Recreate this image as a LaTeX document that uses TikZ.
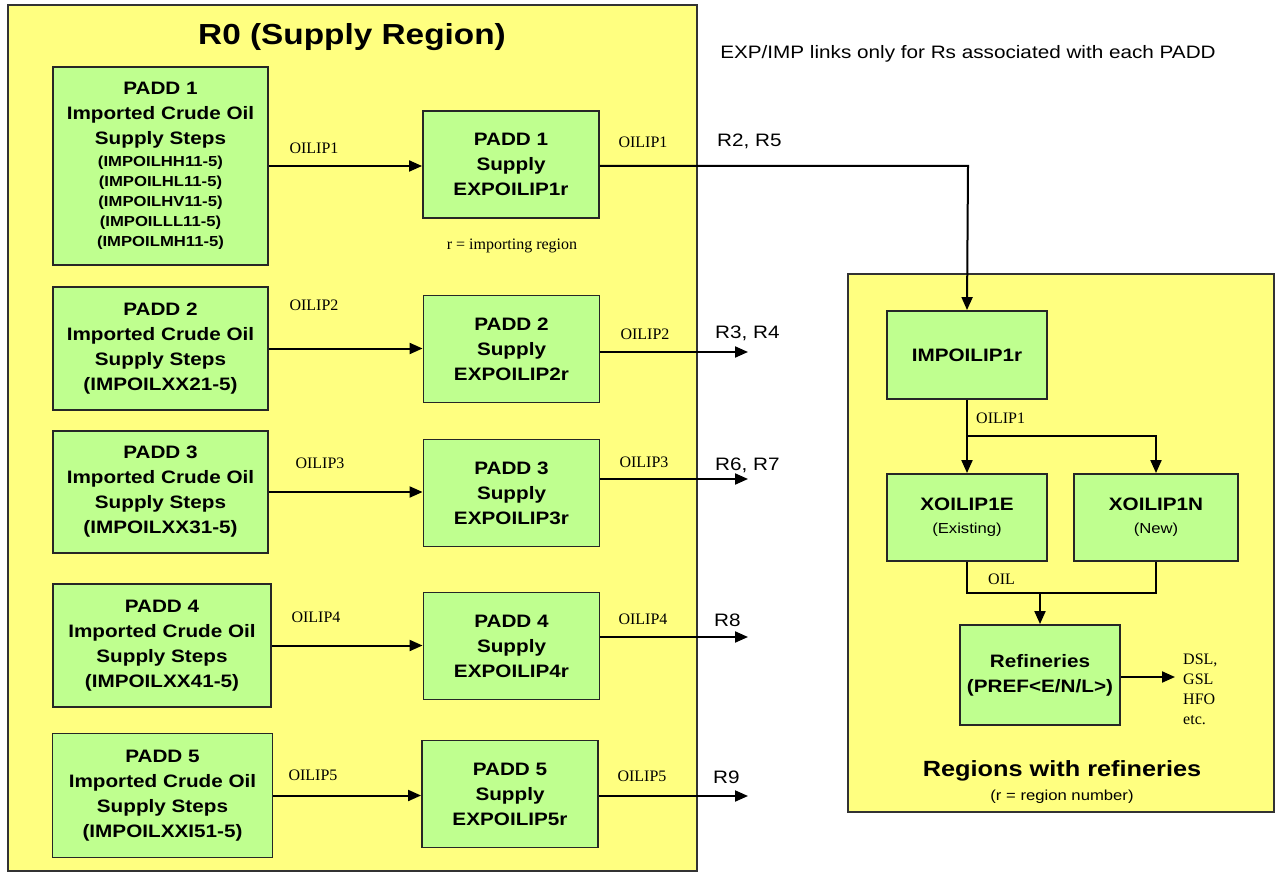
\documentclass[tikz,border=0pt]{standalone}
\usepackage{fontspec}
\setmainfont{Liberation Sans}[FakeStretch=1.15]
\newfontfamily\labelserif{Liberation Serif}
\usetikzlibrary{arrows.meta}
\definecolor{regionyellow}{HTML}{FFFF80}
\definecolor{boxgreen}{HTML}{BFFF8F}
\newcommand\subline{\fontsize{14.5}{20}\selectfont}
\begin{document}
\begin{tikzpicture}[x=1pt,y=-1pt,
  region/.style={draw=black!80, line width=1.4pt, fill=regionyellow},
  box/.style={draw=black!85, line width=1.9pt, fill=boxgreen, align=center,
    inner sep=0pt, font=\fontsize{18}{25}\selectfont\bfseries},
  flow/.style={line width=2pt, -{Triangle[length=13pt,width=11pt]}},
  wire/.style={line width=2pt},
  lbl/.style={font=\labelserif\fontsize{16}{20}\selectfont, inner sep=0pt},
  dest/.style={font=\fontsize{18}{22}\selectfont, anchor=west, inner sep=0pt}]

\useasboundingbox (0,0) rectangle (1276,874);
\fill[white] (0,0) rectangle (1276,874);

% regions
\draw[region] (8,5) rectangle (697,871);
\draw[region] (848,274) rectangle (1274,812);

\node[font=\fontsize{29}{34}\selectfont\bfseries] (title) at (352,37) {R0 (Supply Region)};
\node[font=\fontsize{18}{22}\selectfont] (note) at (968,54) {EXP/IMP links only for Rs associated with each PADD};

% imported crude oil supply steps
\node[box, minimum width=215, minimum height=198] (imp1) at (160.5,166) {%
  \begin{tabular}{@{}c@{}}PADD 1\\Imported Crude Oil\\Supply Steps\\[-3pt]
  \subline (IMPOILHH11-5)\\[-5pt]\subline (IMPOILHL11-5)\\[-5pt]
  \subline (IMPOILHV11-5)\\[-5pt]\subline (IMPOILLL11-5)\\[-5pt]
  \subline (IMPOILMH11-5)\end{tabular}};
\node[box, minimum width=215, minimum height=123] (imp2) at (160.5,348.5)
  {PADD 2\\Imported Crude Oil\\Supply Steps\\(IMPOILXX21-5)};
\node[box, minimum width=215, minimum height=122] (imp3) at (160.5,492)
  {PADD 3\\Imported Crude Oil\\Supply Steps\\(IMPOILXX31-5)};
\node[box, minimum width=218, minimum height=123] (imp4) at (162,645.5)
  {PADD 4\\Imported Crude Oil\\Supply Steps\\(IMPOILXX41-5)};
\node[box, minimum width=220, minimum height=124] (imp5) at (162.5,795.5)
  {PADD 5\\Imported Crude Oil\\Supply Steps\\(IMPOILXXI51-5)};

% supply exports
\node[box, minimum width=176, minimum height=107] (sup1) at (511,164.5) {PADD 1\\Supply\\EXPOILIP1r};
\node[box, minimum width=176, minimum height=107] (sup2) at (511.5,349) {PADD 2\\Supply\\EXPOILIP2r};
\node[box, minimum width=176, minimum height=107] (sup3) at (511.5,493) {PADD 3\\Supply\\EXPOILIP3r};
\node[box, minimum width=176, minimum height=107] (sup4) at (511.5,646) {PADD 4\\Supply\\EXPOILIP4r};
\node[box, minimum width=176, minimum height=107] (sup5) at (510,794) {PADD 5\\Supply\\EXPOILIP5r};

\node[lbl] (rnote) at (512,246) {r = importing region};

% steps to supply
\foreach \i in {1,...,5} {
  \draw[flow] (imp\i.east) -- (imp\i.east -| sup\i.west);
}
\node[lbl] (a1) at (314,148) {OILIP1};
\node[lbl] (a2) at (314,305) {OILIP2};
\node[lbl] (a3) at (320,463) {OILIP3};
\node[lbl] (a4) at (316,617) {OILIP4};
\node[lbl] (a5) at (313,775) {OILIP5};

% exports to other regions
\coordinate (e1) at (968,166);
\coordinate (e2) at (748,352);
\coordinate (e3) at (748,479);
\coordinate (e4) at (748,637);
\coordinate (e5) at (748,796);
\foreach \i in {2,...,5} {
  \draw[flow] (sup\i.east |- e\i) -- (e\i);
}
\node[lbl] (b1) at (643,142) {OILIP1};
\node[lbl] (b2) at (645,334) {OILIP2};
\node[lbl] (b3) at (644,462) {OILIP3};
\node[lbl] (b4) at (643,619) {OILIP4};
\node[lbl] (b5) at (642,776) {OILIP5};
\node[dest] (d1) at (717,141) {R2, R5};
\node[dest] (d2) at (715,333) {R3, R4};
\node[dest] (d3) at (715,465) {R6, R7};
\node[dest] (d4) at (714,620) {R8};
\node[dest] (d5) at (713,777) {R9};

% regions with refineries
\node[box, minimum width=160, minimum height=88] (impr) at (967,355) {IMPOILIP1r};
\node[box, minimum width=160, minimum height=87] (xe) at (967,517.5)
  {XOILIP1E\\[-2pt]{\normalfont\fontsize{14.5}{17}\selectfont (Existing)}};
\node[box, minimum width=164, minimum height=87] (xn) at (1156,517.5)
  {XOILIP1N\\[-2pt]{\normalfont\fontsize{14.5}{17}\selectfont (New)}};
\node[box, minimum width=160, minimum height=100] (ref) at (1040,675)
  {Refineries\\(PREF<E/N/L>)};

\draw[flow] (sup1.east |- e1) -- (e1) -- (impr.north);
\coordinate (split) at (967,436);
\coordinate (merge) at (1040,593);
\draw[wire] (impr.south) -- (split);
\draw[flow] (split) -- (xe.north);
\draw[flow] (split) -| (xn.north);
\draw[wire] (xe.south) |- (merge) -| (xn.south);
\draw[flow] (merge) -- (ref.north);
\node[lbl, anchor=west] (c1) at (976,418) {OILIP1};
\node[lbl, anchor=west] (c2) at (988,579) {OIL};

\coordinate (prod) at (1175,677);
\draw[flow] (ref.east |- prod) -- (prod);
\node[lbl, anchor=west, align=left] (products) at (1183,689) {DSL,\\GSL\\HFO\\etc.};

\node[font=\fontsize{22}{26}\selectfont\bfseries] (rtitle) at (1062,771) {Regions with refineries};
\node[font=\fontsize{14.5}{17}\selectfont] (rsub) at (1062,797) {(r = region number)};
\end{tikzpicture}
\end{document}
